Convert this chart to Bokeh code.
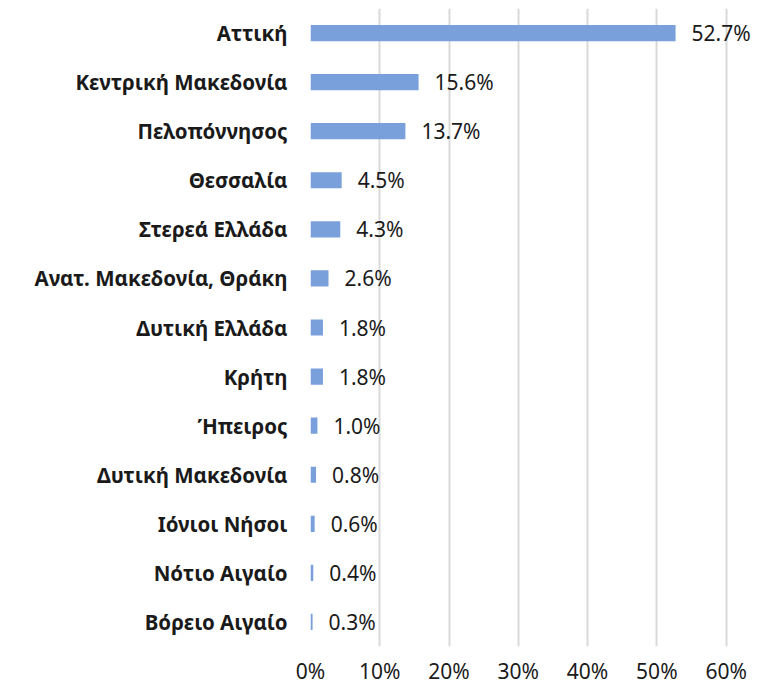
from bokeh.plotting import figure
from bokeh.models import ColumnDataSource, FactorRange, FixedTicker, PrintfTickFormatter
from bokeh.core.properties import value
from bokeh.embed import file_html
from bokeh.resources import INLINE

regions = ["Αττική", "Κεντρική Μακεδονία", "Πελοπόννησος", "Θεσσαλία", "Στερεά Ελλάδα",
           "Ανατ. Μακεδονία, Θράκη", "Δυτική Ελλάδα", "Κρήτη", "Ήπειρος", "Δυτική Μακεδονία",
           "Ιόνιοι Νήσοι", "Νότιο Αιγαίο", "Βόρειο Αιγαίο"]
shares = [52.7, 15.6, 13.7, 4.5, 4.3, 2.6, 1.8, 1.8, 1.0, 0.8, 0.6, 0.4, 0.3]
x_ticks = [0, 10, 20, 30, 40, 50, 60]

labels = [f"{v:.1f}%" for v in shares]
src = ColumnDataSource(dict(region=regions, share=shares, label=labels))

p = figure(width=767, height=688, output_backend="svg", toolbar_location=None,
           y_range=FactorRange(factors=list(reversed(regions))),
           x_range=(0, 64.24),
           min_border_left=310, min_border_right=12, min_border_top=8, min_border_bottom=42)

p.hbar(y="region", right="share", left=0, height=0.33, source=src,
       fill_color="#7aa0dc", line_color=None)
p.text(x="share", y="region", text="label", source=src, x_offset=16,
       text_baseline="middle", text_align="left", text_font=value("Noto Sans"),
       text_font_size="21px", text_color="#1a1a1a")

p.outline_line_color = None
p.ygrid.grid_line_color = None
p.xgrid.grid_line_color = "#d9d9d9"
p.xgrid.grid_line_width = 2
p.xaxis.ticker = FixedTicker(ticks=x_ticks)
p.xaxis.formatter = PrintfTickFormatter(format="%d%%")
for ax in (p.xaxis[0], p.yaxis[0]):
    ax.axis_line_color = None
    ax.major_tick_line_color = None
    ax.minor_tick_line_color = None
    ax.major_tick_out = 0
    ax.major_tick_in = 0
    ax.major_label_text_font = "Noto Sans"
    ax.major_label_text_color = "#1a1a1a"
p.xaxis.major_label_text_font_size = "21px"
p.xaxis.major_label_standoff = 10
p.yaxis.major_label_text_font_size = "20.5px"
p.yaxis.major_label_text_font_style = "bold"
p.yaxis.major_label_standoff = 23

open("out.html", "w").write(file_html(p, INLINE))
